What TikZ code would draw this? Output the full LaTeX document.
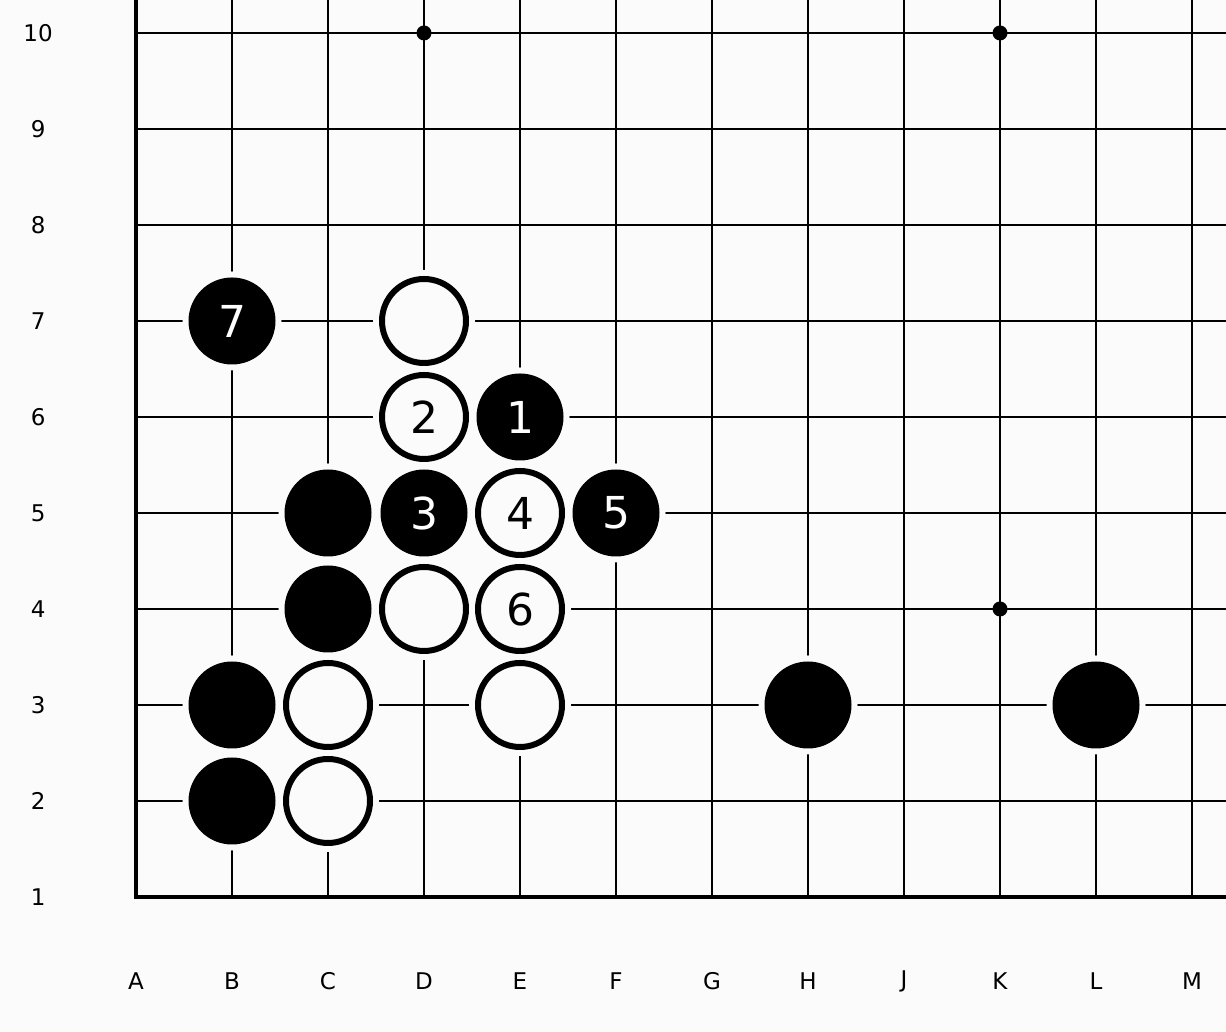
\documentclass[tikz,border=0pt]{standalone}
\usepackage{fontspec}
\setmainfont{DejaVu Sans}
\definecolor{bg}{RGB}{252,251,252}
\begin{document}
\begin{tikzpicture}[x=1pt,y=1pt,
  grid/.style={line width=2pt,black},
  edge/.style={line width=4pt,black,line join=miter},
  bstone/.style={circle,fill=black,minimum size=87pt,inner sep=0pt,text=white,
    font=\fontsize{44}{44}\selectfont,preaction={draw=bg,line width=12pt}},
  wstone/.style={circle,fill=bg,draw=black,line width=6pt,minimum size=84pt,inner sep=0pt,text=black,
    font=\fontsize{44}{44}\selectfont,preaction={draw=bg,line width=18pt}},
  star/.style={circle,fill=black,minimum size=15pt,inner sep=0pt},
  lbl/.style={font=\fontsize{23}{23}\selectfont,text=black,inner sep=0pt}
]
\fill[bg] (0,0) rectangle (1226,1032);
\useasboundingbox (0,0) rectangle (1226,1032);
\begin{scope}[shift={(136,135)},x=96pt,y=96pt]
  % grid
  \foreach \i in {1,...,11} \draw[grid] (\i,0) -- (\i,9.35);
  \foreach \j in {1,...,9} \draw[grid] (0,\j) -- (11.36,\j);
  \draw[edge] (0,9.35) -- (0,0) -- (11.36,0);
  % star points
  \node[star] (s1) at (3,9) {};
  \node[star] (s2) at (9,9) {};
  \node[star] (s3) at (9,3) {};
  % row labels
  \foreach \r in {1,...,10} \node[lbl] (r\r) at (-1.02,\r-1) {\r};
  % column labels
  \foreach \c/\n in {A/0,B/1,C/2,D/3,E/4,F/5,G/6,H/7,J/8,K/9,L/10,M/11}
    \node[lbl] (c\c) at (\n,-0.875) {\c};
  % black stones
  \node[bstone] (B7) at (1,6) {7};
  \node[bstone] (E6) at (4,5) {1};
  \node[bstone] (C5) at (2,4) {};
  \node[bstone] (D5) at (3,4) {3};
  \node[bstone] (F5) at (5,4) {5};
  \node[bstone] (C4) at (2,3) {};
  \node[bstone] (B3) at (1,2) {};
  \node[bstone] (H3) at (7,2) {};
  \node[bstone] (L3) at (10,2) {};
  \node[bstone] (B2) at (1,1) {};
  % white stones
  \node[wstone] (D7) at (3,6) {};
  \node[wstone] (D6) at (3,5) {2};
  \node[wstone] (E5) at (4,4) {4};
  \node[wstone] (D4) at (3,3) {};
  \node[wstone] (E4) at (4,3) {6};
  \node[wstone] (C3) at (2,2) {};
  \node[wstone] (E3) at (4,2) {};
  \node[wstone] (C2) at (2,1) {};
\end{scope}
\end{tikzpicture}
\end{document}
